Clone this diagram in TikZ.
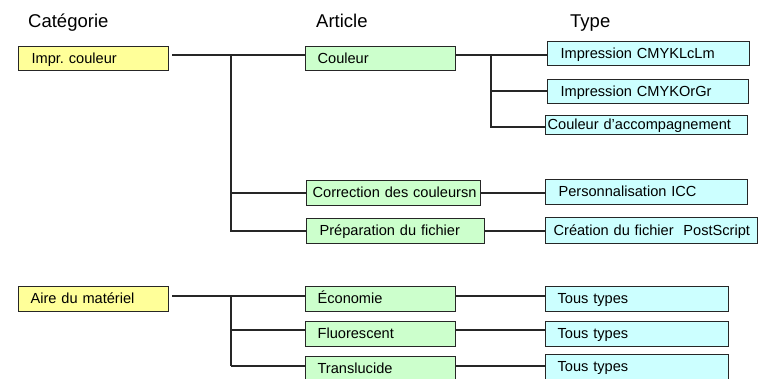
\documentclass[tikz,border=0pt]{standalone}
\usepackage{fontspec}
\setmainfont{Liberation Sans}
\usetikzlibrary{calc}
\frenchspacing
\definecolor{yel}{HTML}{FFFF99}
\definecolor{grn}{HTML}{CCFFCC}
\definecolor{blu}{HTML}{CCFFFF}
\definecolor{lin}{HTML}{262626}
\tikzset{
  box/.style={draw=lin, line width=1.2pt, anchor=north west, inner ysep=0pt,
    text height=11.5pt, text depth=2.5pt, align=left,
    font=\fontsize{14.6}{17}\selectfont},
  ybox/.style={box, fill=yel},
  gbox/.style={box, fill=grn},
  bbox/.style={box, fill=blu},
  head/.style={anchor=base west, inner sep=0pt, font=\fontsize{18.5}{22}\selectfont},
  conn/.style={draw=lin, line width=1.3pt}
}
\begin{document}
\begin{tikzpicture}[x=1pt,y=-1pt]
\useasboundingbox (0,0) rectangle (761,378);
\clip (0,0) rectangle (761,378);
% headers
\node[head] (h1) at (28,27) {Catégorie};
\node[head] (h2) at (316,27) {Article};
\node[head] (h3) at (570,27) {Type};
% categories
\node[ybox, minimum height=24pt, inner xsep=13pt, text width=124pt] (c1) at (18,46) {Impr.\ couleur};
\node[ybox, minimum height=25pt, inner xsep=12pt, text width=126pt] (c2) at (18,286) {Aire du matériel};
% articles
\node[gbox, minimum height=24pt, inner xsep=12pt, text width=126pt] (a1) at (305,46) {Couleur};
\node[gbox, minimum height=24.5pt, inner xsep=6pt, text width=162pt] (a2) at (306,180) {\mbox{Correction des couleursn}};
\node[gbox, minimum height=25pt, inner xsep=13pt, text width=152pt] (a3) at (306,218) {Préparation du fichier};
\node[gbox, minimum height=25pt, inner xsep=12pt, text width=126pt] (a4) at (305,286) {Économie};
\node[gbox, minimum height=25pt, inner xsep=12pt, text width=126pt] (a5) at (305,321) {Fluorescent};
\node[gbox, minimum height=25pt, inner xsep=12pt, text width=126pt] (a6) at (305,356) {Translucide};
% types
\node[bbox, minimum height=24pt, inner xsep=13pt, text width=176pt] (t1) at (547,41) {Impression CMYKLcLm};
\node[bbox, minimum height=24pt, inner xsep=13pt, text width=175pt] (t2) at (547,79) {Impression CMYKOrGr};
\node[bbox, minimum height=19pt, inner xsep=2pt, text width=198pt] (t3) at (545,115) {\mbox{Couleur d'accompagnement}};
\node[bbox, minimum height=25pt, inner xsep=13pt, text width=176pt] (t4) at (545,179) {Personnalisation ICC};
\node[bbox, minimum height=26pt, inner xsep=8pt, text width=196pt] (t5) at (545,217) {\mbox{Création du fichier~ PostScript}};
\node[bbox, minimum height=25pt, inner xsep=12pt, text width=159pt] (t6) at (545,286) {Tous types};
\node[bbox, minimum height=25pt, inner xsep=12pt, text width=159pt] (t7) at (545,321) {Tous types};
\node[bbox, minimum height=25pt, inner xsep=12pt, text width=159pt] (t8) at (545,354) {Tous types};
% junction coordinates
\coordinate (j1) at (231,55);
\coordinate (j2) at (491,55);
\coordinate (k2) at (491,91);
\coordinate (k3) at (491,127);
\coordinate (j3) at (231,296);
\coordinate (r5) at (231,330);
\coordinate (r6) at (231,366);
% connectors: top group
\draw[conn, shorten <=3pt] (c1.east |- j1) -- (a1.west |- j1);
\draw[conn] (j1) |- (a2.west);
\draw[conn] (j1) |- (a3.west);
\draw[conn] (a1.east |- j2) -- (t1.west |- j2);
\draw[conn] (k2) -- (k2 -| t2.west);
\draw[conn] (j2) -- (k3) -- (k3 -| t3.west);
\draw[conn] (a2.east) -- (a2.east -| t4.west);
\draw[conn] (a3.east) -- (a3.east -| t5.west);
% connectors: bottom group
\draw[conn, shorten <=3pt] (c2.east |- j3) -- (a4.west |- j3);
\draw[conn] (j3) -- (r6);
\draw[conn] (r5) -- (r5 -| a5.west);
\draw[conn] (r6) -- (r6 -| a6.west);
\draw[conn] (a4.east |- j3) -- (t6.west |- j3);
\draw[conn] (r5 -| a5.east) -- (r5 -| t7.west);
\draw[conn] (r6 -| a6.east) -- (r6 -| t8.west);
\end{tikzpicture}
\end{document}
